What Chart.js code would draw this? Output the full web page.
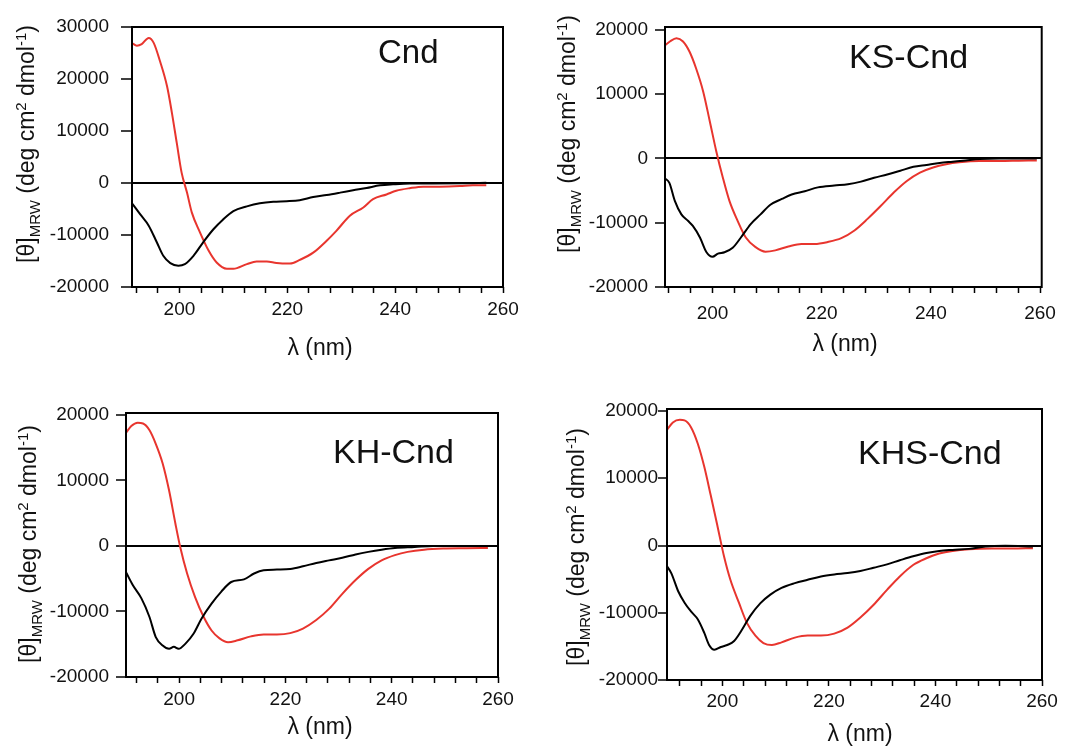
<!DOCTYPE html>
<html>
<head>
<meta charset="utf-8">
<script src="https://cdn.jsdelivr.net/npm/chart.js@4/dist/chart.umd.min.js"></script>
<style>
  html, body { margin: 0; padding: 0; background: #fff; }
  #wrap { position: relative; width: 1065px; height: 746px; overflow: hidden; }
  #wrap canvas { position: absolute; left: 0; top: 0; }
</style>
</head>
<body>
<div id="wrap">
  <canvas id="p1" width="1065" height="746"></canvas>
  <canvas id="p2" width="1065" height="746"></canvas>
  <canvas id="p3" width="1065" height="746"></canvas>
  <canvas id="p4" width="1065" height="746"></canvas>
</div>
<script>
// CD spectra, wavelength (nm) vs [θ]MRW
const panelNames = ['Cnd', 'KS-Cnd', 'KH-Cnd', 'KHS-Cnd'];
const xTickLabels = [200, 220, 240, 260];

// Cnd
const cndRedX = [191.2,192.1,193,194.3,195.2,196.4,197.7,198.6,199.5,200.4,201.4,202.3,203.8,205.4,206.9,208.8,210,212.5,214.3,216.2,218,220.5,222.3,224.8,227.3,229.1,231.6,234.1,235.9,238.4,240.2,242.7,245.2,248.3,252,254.4,256.9];
const cndRedY = [26900,26400,26700,27900,27000,23400,18600,13500,7700,2000,-1850,-5700,-9500,-13000,-15300,-16500,-16500,-15600,-15100,-15100,-15400,-15500,-14800,-13400,-11100,-9200,-6300,-4700,-3100,-2200,-1500,-1000,-700,-700,-600,-450,-450];
const cndBlackX = [191.2,192.7,194.3,195.8,197,198.3,199.8,201,202.6,204.4,206.3,208.1,210,212.5,214.9,217.4,219.9,222.3,224.8,227.3,229.8,232.2,234.7,237.2,239.6,242.7,247,253.2,256.9];
const cndBlackY = [-3900,-6000,-8200,-11400,-14000,-15400,-15900,-15600,-14000,-11400,-8900,-7000,-5400,-4500,-3900,-3600,-3500,-3300,-2700,-2300,-1850,-1400,-950,-450,-250,-100,-100,-50,50];

// KS-Cnd
const ksRedX = [191.3,192.2,193.4,194.6,195.8,197,198.3,199.5,200.7,201.9,203.1,204.6,206.1,207.9,209.7,211.5,213.9,216.3,218.7,221.1,223.6,226,228.4,230.8,233.2,235.6,238,240.4,242.8,245.2,248.9,252.5,256.1,259.4];
const ksRedY = [17600,18200,18700,18200,16600,14000,10400,5800,1100,-3000,-6600,-9700,-12300,-13800,-14500,-14300,-13700,-13300,-13300,-13000,-12400,-11200,-9400,-7400,-5300,-3500,-2200,-1400,-900,-600,-400,-400,-350,-300];
const ksBlackX = [191.3,192.1,193.1,194.3,195.5,196.4,197.7,198.9,200,201,202.2,203.7,205.2,207,208.8,210.6,212.7,214.5,216.9,219.3,222.3,224.8,227.2,229.6,232,234.4,236.8,239.2,241.6,244,246.4,248.9,252.5,256.1,259.4];
const ksBlackY = [-3100,-3800,-6600,-8700,-9700,-10500,-12300,-14600,-15300,-14800,-14600,-13900,-12300,-10200,-8700,-7200,-6300,-5600,-5100,-4500,-4200,-4000,-3600,-3000,-2500,-1900,-1300,-1000,-700,-500,-300,-100,0,0,0];

// KH-Cnd
const khRedX = [190,191,192.2,193.2,194.4,195.6,196.9,198.1,199.3,200.2,201.5,203,204.6,206.1,207.6,209.2,211,213.5,215.9,218.4,220.9,223.3,225.8,228.2,230.7,233.2,235.6,238.1,240.6,243,246.1,249.8,254.1,258.1];
const khRedY = [17300,18300,18800,18700,17700,15600,12600,8500,3400,-150,-4200,-7800,-10800,-12900,-14100,-14700,-14400,-13800,-13500,-13500,-13300,-12600,-11300,-9600,-7300,-5200,-3500,-2200,-1400,-900,-560,-400,-350,-300];
const khBlackX = [190,191.3,192.9,194.4,195.6,196.9,198.1,199,199.9,201.2,202.7,204.2,206.1,207.9,209.8,212.2,214.1,215.9,218.4,220.9,223.3,225.8,228.2,230.7,233.2,235.6,238.1,240.6,244.3,247.9,252.9,258.1];
const khBlackY = [-4000,-6000,-8000,-10800,-13900,-15200,-15700,-15400,-15700,-14900,-13400,-11100,-8800,-7000,-5500,-5100,-4200,-3700,-3600,-3500,-3100,-2600,-2200,-1800,-1300,-900,-560,-300,-150,0,0,0];

// KHS-Cnd
const khsRedX = [189.6,190.7,192,192.9,194.1,195.4,196.6,197.8,199.1,200.3,201.5,203.1,204.6,206.2,207.7,209.3,211.1,213.6,216,218.5,221,223.5,225.9,228.4,230.9,233.3,235.8,238.3,240.7,243.2,246.3,250.6,254.3,258.3];
const khsRedY = [17200,18300,18700,18600,17600,15100,11700,7500,2800,-1600,-5100,-8500,-11500,-13400,-14500,-14800,-14400,-13700,-13400,-13400,-13100,-12200,-10700,-8800,-6600,-4600,-2900,-1900,-1200,-800,-550,-450,-450,-400];
const khsBlackX = [189.6,190.4,191.7,192.9,194.1,195.4,196.6,197.5,198.5,199.7,200.9,202.2,203.7,205.2,207.1,209,211.1,213.6,216,218.5,221,223.5,225.9,228.4,230.9,233.3,235.8,238.3,240.7,243.2,246.3,249.4,253.1,258.3];
const khsBlackY = [-3100,-4100,-6800,-8500,-9800,-11000,-13000,-14800,-15500,-15100,-14800,-14200,-12500,-10500,-8600,-7300,-6300,-5600,-5100,-4600,-4300,-4100,-3800,-3300,-2800,-2200,-1600,-1100,-800,-650,-500,-150,-50,-150];

const RED = '#e8352e';
const FONT = 'Liberation Sans, Arial, Helvetica, sans-serif';

function pts(xs, ys) { return xs.map((x, i) => ({ x: x, y: ys[i] })); }

// rotated y title with sub/superscripts
function drawYTitle(ctx, cx, cy) {
  const big = 23, small = 15;
  const parts = [
    ['[θ]', 0, big], ['MRW', 6, small], [' (deg cm', 0, big], ['2', -8, small],
    [' dmol', 0, big], ['-1', -8, small], [')', 0, big]
  ];
  ctx.save();
  ctx.translate(cx, cy);
  ctx.rotate(-Math.PI / 2);
  let total = 0;
  parts.forEach(p => { ctx.font = p[2] + 'px ' + FONT; total += ctx.measureText(p[0]).width; });
  let x = -total / 2;
  ctx.fillStyle = '#111';
  ctx.textBaseline = 'alphabetic';
  parts.forEach(p => {
    ctx.font = p[2] + 'px ' + FONT;
    ctx.fillText(p[0], x, 8 + p[1]);
    x += ctx.measureText(p[0]).width;
  });
  ctx.restore();
}

function makePanel(id, cfg) {
  const framePlugin = {
    id: 'frame',
    afterDatasetsDraw(chart) {
      const a = chart.chartArea, ctx = chart.ctx;
      ctx.save();
      ctx.strokeStyle = '#000';
      ctx.lineWidth = 2;
      ctx.strokeRect(a.left, a.top, a.right - a.left, a.bottom - a.top);
      ctx.fillStyle = '#111';
      ctx.font = cfg.nameSize + 'px ' + FONT;
      ctx.textBaseline = 'alphabetic';
      ctx.fillText(cfg.name, cfg.nameX, cfg.nameY);
      ctx.font = '23px ' + FONT;
      ctx.textAlign = 'center';
      ctx.textBaseline = 'middle';
      ctx.fillText('λ (nm)', cfg.xtX, cfg.xtY);
      ctx.restore();
      drawYTitle(ctx, cfg.ytX, cfg.ytY);
    }
  };

  new Chart(document.getElementById(id), {
    type: 'line',
    data: {
      datasets: [
        { data: pts(cfg.blackX, cfg.blackY), borderColor: '#000', borderWidth: 2, pointRadius: 0, cubicInterpolationMode: 'monotone' },
        { data: pts(cfg.redX, cfg.redY), borderColor: RED, borderWidth: 2, pointRadius: 0, cubicInterpolationMode: 'monotone' }
      ]
    },
    options: {
      responsive: false,
      animation: false,
      events: [],
      layout: { padding: { left: cfg.L - 100, top: cfg.T, right: 1065 - cfg.R, bottom: 746 - cfg.B - 45 } },
      plugins: { legend: { display: false }, tooltip: { enabled: false } },
      scales: {
        x: {
          type: 'linear', min: cfg.xmin, max: cfg.xmax,
          afterFit: s => { s.height = 45; },
          afterBuildTicks: s => {
            const t = [];
            for (let v = 192; v <= 260; v += 4) if (v >= cfg.xmin && v <= cfg.xmax + 0.01) t.push({ value: v });
            s.ticks = t;
          },
          border: { display: false },
          grid: { drawOnChartArea: false, tickLength: 6, tickColor: '#000', tickWidth: 1.5 },
          ticks: {
            autoSkip: false, maxRotation: 0, padding: cfg.xPad, color: '#111',
            font: { family: FONT, size: 19 },
            callback: v => xTickLabels.includes(v) ? String(v) : ''
          }
        },
        y: {
          min: -20000, max: cfg.ymax,
          afterFit: s => { s.width = 100; },
          afterBuildTicks: s => {
            const t = [];
            for (let v = -20000; v <= cfg.ymax; v += 10000) t.push({ value: v });
            s.ticks = t;
          },
          border: { display: false },
          grid: {
            color: c => (c.tick && c.tick.value === 0) ? '#000' : 'rgba(0,0,0,0)',
            lineWidth: 2, tickLength: cfg.yTick, tickColor: '#000', tickWidth: 1.5
          },
          ticks: { padding: cfg.yPad, color: '#111', font: { family: FONT, size: 19 }, callback: v => String(v) }
        }
      }
    },
    plugins: [framePlugin]
  });
}

makePanel('p1', {
  name: panelNames[0], nameSize: 33, nameX: 378, nameY: 63,
  L: 132, R: 503, T: 27, B: 287, xmin: 191.2, xmax: 260, ymax: 30000,
  xPad: 5, yTick: 11, yPad: 12, xtX: 320, xtY: 349, ytX: 26, ytY: 144,
  redX: cndRedX, redY: cndRedY, blackX: cndBlackX, blackY: cndBlackY
});
makePanel('p2', {
  name: panelNames[1], nameSize: 34, nameX: 849, nameY: 68,
  L: 665, R: 1047, T: 27, B: 287, xmin: 191.3, xmax: 260.3, ymax: 20460,
  xPad: 9, yTick: 10, yPad: 7, xtX: 845, xtY: 345, ytX: 567, ytY: 134,
  redX: ksRedX, redY: ksRedY, blackX: ksBlackX, blackY: ksBlackY
});
makePanel('p3', {
  name: panelNames[2], nameSize: 34, nameX: 333, nameY: 463,
  L: 126, R: 498, T: 413, B: 677, xmin: 190, xmax: 260, ymax: 20300,
  xPad: 5, yTick: 10, yPad: 7, xtX: 320, xtY: 728, ytX: 28, ytY: 544,
  redX: khRedX, redY: khRedY, blackX: khBlackX, blackY: khBlackY
});
makePanel('p4', {
  name: panelNames[3], nameSize: 34, nameX: 858, nameY: 464,
  L: 667, R: 1042, T: 409, B: 680, xmin: 189.6, xmax: 260, ymax: 20300,
  xPad: 4, yTick: 9, yPad: 0, xtX: 860, xtY: 735, ytX: 576, ytY: 547,
  redX: khsRedX, redY: khsRedY, blackX: khsBlackX, blackY: khsBlackY
});
</script>
</body>
</html>
